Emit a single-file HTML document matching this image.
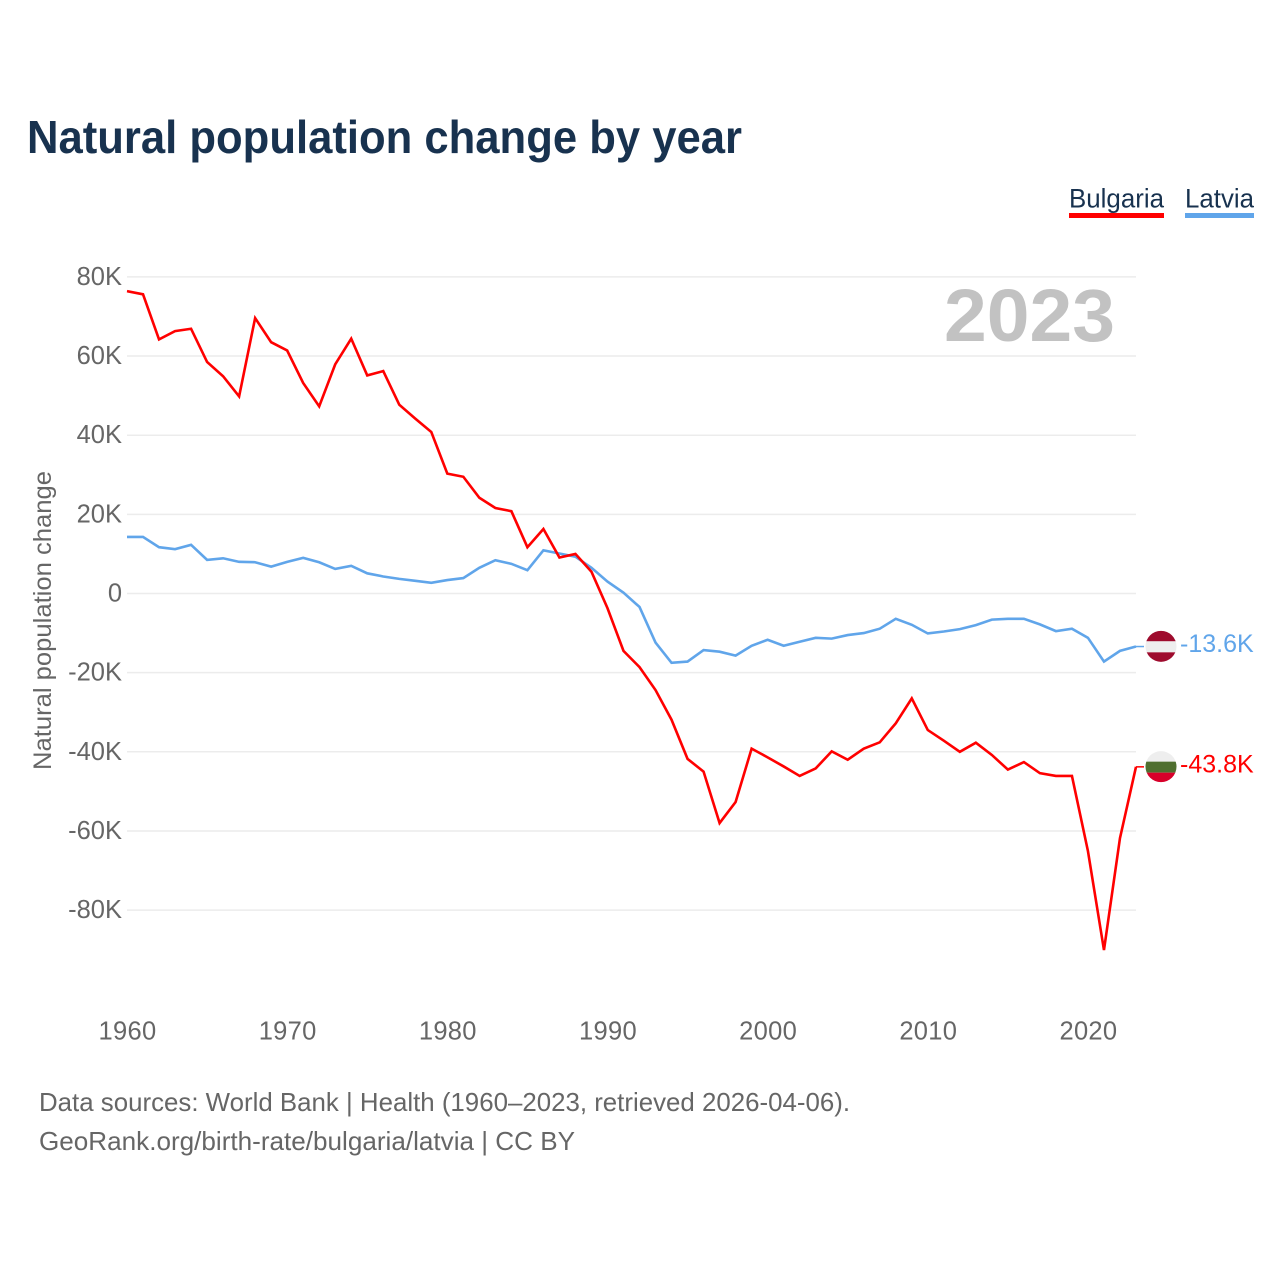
<!DOCTYPE html>
<html lang="en">
<head>
<meta charset="utf-8">
<title>Natural population change by year</title>
<style>
  html, body { margin: 0; padding: 0; background: #fff; }
  svg { display: block; font-family: "Liberation Sans", sans-serif; }
  .tick { font-size: 25.5px; fill: #666; }
  .foot { font-size: 26px; fill: #666; }
</style>
</head>
<body>
<svg id="chart" xmlns="http://www.w3.org/2000/svg" width="1280" height="1280" viewBox="0 0 1280 1280">
  <defs>
    <clipPath id="flag-clip"><circle cx="0" cy="0" r="15.5"></circle></clipPath>
  </defs>
  <rect x="0" y="0" width="1280" height="1280" fill="#fff"></rect>
  <text x="27" y="153" font-size="46" font-weight="700" fill="#18324f" textLength="715" lengthAdjust="spacingAndGlyphs">Natural population change by year</text>

  <g>
    <text x="1069" y="207.5" font-size="26.5" fill="#18324f" textLength="95" lengthAdjust="spacingAndGlyphs">Bulgaria</text>
    <rect x="1069" y="213" width="95" height="5" fill="#ff0000"></rect>
  </g>
  <g>
    <text x="1185" y="207.5" font-size="26.5" fill="#18324f" textLength="69" lengthAdjust="spacingAndGlyphs">Latvia</text>
    <rect x="1185" y="213" width="69" height="5" fill="#60a5ea"></rect>
  </g>

  <g id="grid"></g>
  <g id="y-labels"></g>
  <g id="x-labels"></g>

  <text x="1115" y="341" text-anchor="end" font-size="74" font-weight="700" fill="#c2c2c2" textLength="171" lengthAdjust="spacingAndGlyphs">2023</text>

  <text transform="translate(51,620.5) rotate(-90)" text-anchor="middle" font-size="25" fill="#666" textLength="299" lengthAdjust="spacingAndGlyphs">Natural population change</text>

  <g id="series"></g>
  <g id="ends"></g>

  <text class="foot" x="39" y="1111" textLength="811" lengthAdjust="spacingAndGlyphs">Data sources: World Bank | Health (1960–2023, retrieved 2026-04-06).</text>
  <text class="foot" x="39" y="1150" textLength="536" lengthAdjust="spacingAndGlyphs">GeoRank.org/birth-rate/bulgaria/latvia | CC BY</text>
</svg>

<script>
const startYear = 1960;
const bulgariaValues = [76.4,75.6,64.2,66.3,66.9,58.5,54.9,49.8,69.6,63.5,61.4,53.2,47.3,57.9,64.4,55.1,56.2,47.7,44.2,40.8,30.3,29.5,24.2,21.6,20.8,11.7,16.3,9.1,10.0,5.5,-3.7,-14.5,-18.6,-24.4,-31.9,-41.8,-45.0,-58.0,-52.7,-39.2,-41.4,-43.7,-46.1,-44.2,-39.9,-42.0,-39.2,-37.6,-32.8,-26.5,-34.5,-37.2,-40.0,-37.7,-40.8,-44.5,-42.6,-45.4,-46.1,-46.1,-65.1,-90.1,-61.8,-43.8];
const latviaValues = [14.3,14.3,11.7,11.2,12.3,8.5,8.9,8.0,7.9,6.8,8.0,9.0,7.9,6.2,7.0,5.1,4.3,3.7,3.2,2.7,3.4,3.9,6.5,8.4,7.5,5.9,10.9,10.1,9.3,6.5,3.0,0.2,-3.4,-12.4,-17.5,-17.2,-14.3,-14.7,-15.7,-13.2,-11.7,-13.2,-12.2,-11.2,-11.4,-10.5,-10.0,-8.9,-6.4,-7.9,-10.1,-9.6,-9.0,-8.0,-6.6,-6.4,-6.4,-7.8,-9.5,-8.9,-11.2,-17.2,-14.5,-13.4];
const yTickValues = [80,60,40,20,0,-20,-40,-60,-80];
const yTickLabels = ["80K","60K","40K","20K","0","-20K","-40K","-60K","-80K"];
const xTickYears = [1960,1970,1980,1990,2000,2010,2020];
const endLabels = ["-43.8K","-13.6K"];

const NS = "http://www.w3.org/2000/svg";
function xScale(year) { return 127 + (year - 1960) * (1136 - 127) / 63; }
function yScale(v) { return 593.5 - v * 3.9575; }
function make(tag, attrs, parent, text) {
  const el = document.createElementNS(NS, tag);
  for (const k in attrs) el.setAttribute(k, attrs[k]);
  if (text !== undefined) el.textContent = text;
  parent.appendChild(el);
  return el;
}

const grid = document.getElementById("grid");
const yLabels = document.getElementById("y-labels");
yTickValues.forEach((v, i) => {
  const line = make("line", {x1: 127, x2: 1136, y1: yScale(v), y2: yScale(v), stroke: "#ececec", "stroke-width": 1.5}, grid);
  
  
  const label = make("text", {class: "tick", x: 122, y: yScale(v) + 8, "text-anchor": "end"}, yLabels, yTickLabels[i]);
  
  
});

const xLabels = document.getElementById("x-labels");
xTickYears.forEach((yr) => {
  const label = make("text", {class: "tick", x: xScale(yr) + 0.5, y: 1039.5, "text-anchor": "middle", "letter-spacing": "0.3"}, xLabels, String(yr));
  
  
});

function pathFor(values) {
  return values.map((v, i) => (i ? "L" : "M") + xScale(startYear + i).toFixed(2) + " " + yScale(v).toFixed(2)).join(" ");
}

const seriesGroup = document.getElementById("series");
const latviaLine = make("path", {d: pathFor(latviaValues), fill: "none", stroke: "#60a5ea", "stroke-width": 2.6, "stroke-linejoin": "miter"}, seriesGroup);


const bulgariaLine = make("path", {d: pathFor(bulgariaValues), fill: "none", stroke: "#ff0000", "stroke-width": 2.6, "stroke-linejoin": "miter"}, seriesGroup);



const ends = document.getElementById("ends");
function flag(cy, colors, color, labelText) {
  const connector = make("line", {x1: 1136, x2: 1144, y1: cy, y2: cy, stroke: color, "stroke-width": 1.5}, ends);
  
  
  const g = make("g", {transform: "translate(1161," + (cy - 0.2) + ")", "clip-path": "url(#flag-clip)"}, ends);
  
  
  make("rect", {x: -16, y: -16, width: 32, height: 11, fill: colors[0]}, g);
  make("rect", {x: -16, y: -5, width: 32, height: 11, fill: colors[1]}, g);
  make("rect", {x: -16, y: 6, width: 32, height: 11, fill: colors[2]}, g);
  const label = make("text", {x: 1180, y: cy + 5.5, "font-size": 25, fill: color}, ends, labelText);
  
  
}
flag(yScale(latviaValues[latviaValues.length - 1]), ["#9e0b2d", "#eeeeee", "#9e0b2d"], "#60a5ea", endLabels[1]);
flag(yScale(bulgariaValues[bulgariaValues.length - 1]), ["#eeeeee", "#4f6f2f", "#d8002a"], "#ff0000", endLabels[0]);
</script>
</body>
</html>
